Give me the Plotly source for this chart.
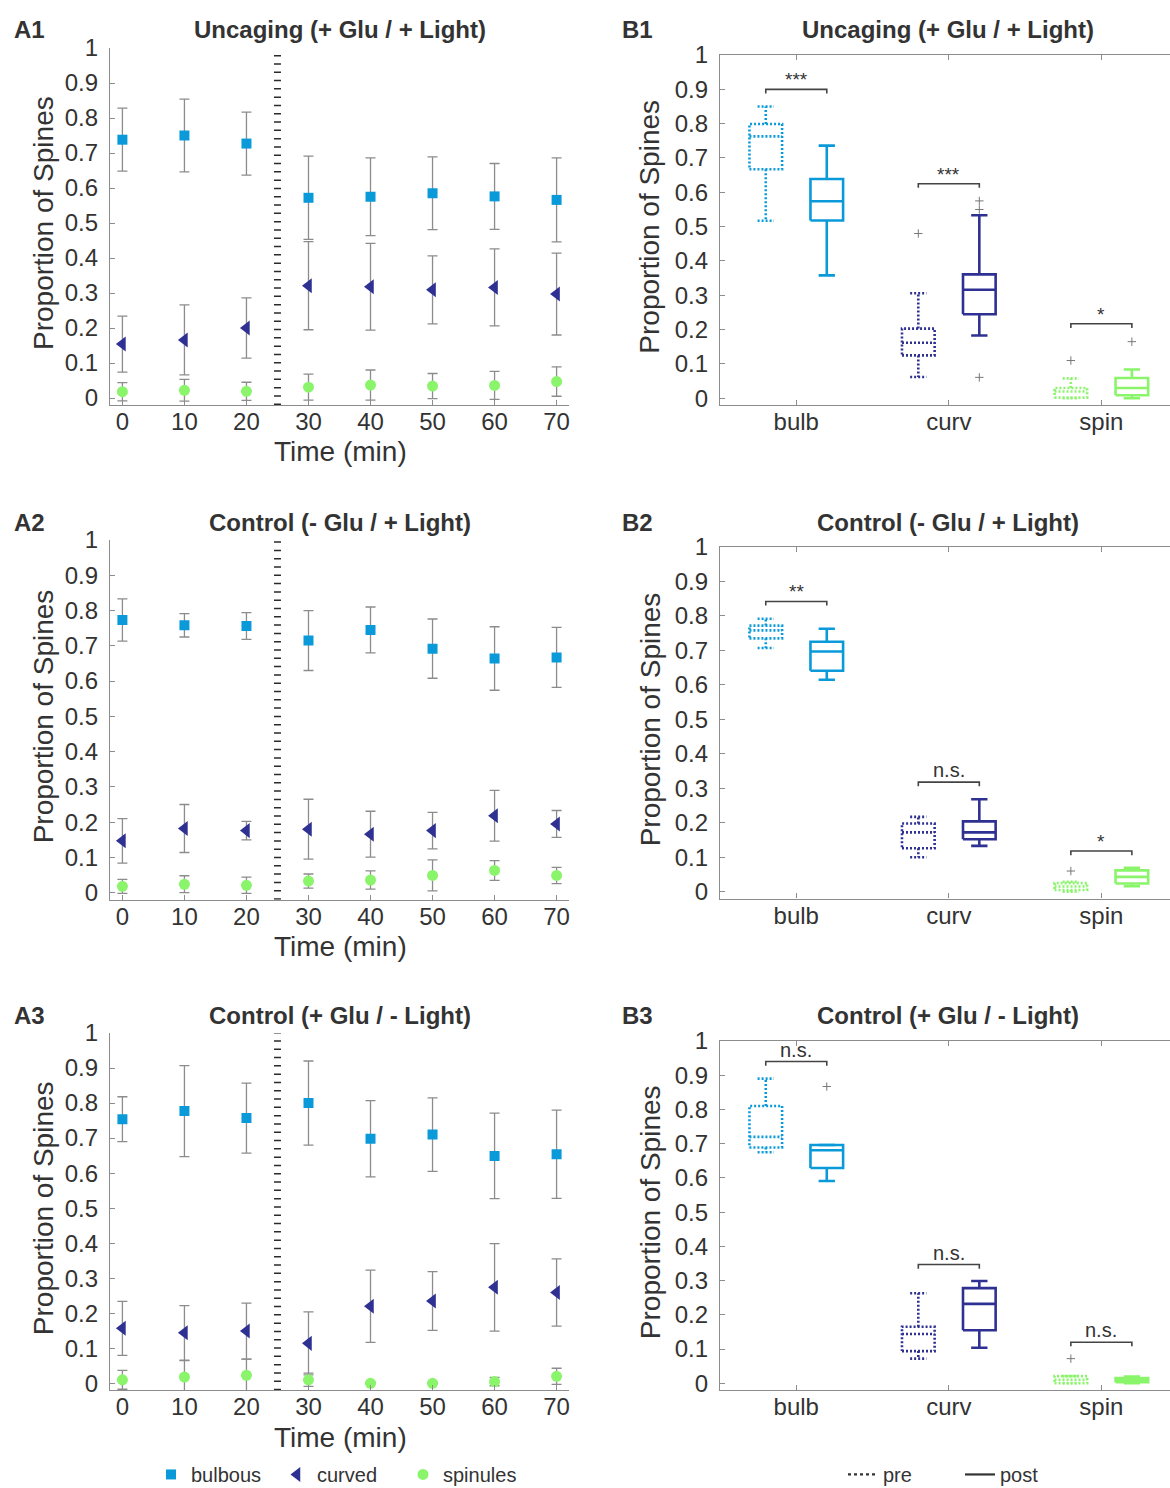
import plotly.graph_objects as go

# ---------------- data ----------------
TIME = [0, 10, 20, 30, 40, 50, 60, 70]
STIM_TIME = 25
TIME_TICKS = [0, 10, 20, 30, 40, 50, 60, 70]
Y_TICKS = [0, 0.1, 0.2, 0.3, 0.4, 0.5, 0.6, 0.7, 0.8, 0.9, 1]
Y_TICK_TEXT = ["0", "0.1", "0.2", "0.3", "0.4", "0.5", "0.6", "0.7", "0.8", "0.9", "1"]

PANEL_TITLES = ["Uncaging (+ Glu / + Light)", "Control (- Glu / + Light)", "Control (+ Glu / - Light)"]
A_LABELS = ["A1", "A2", "A3"]
B_LABELS = ["B1", "B2", "B3"]
SERIES_NAMES = ["bulbous", "curved", "spinules"]
CATEGORIES = ["bulb", "curv", "spin"]
CONDITIONS = ["pre", "post"]

# time courses (mean, error)
A1_bulb = [0.738, 0.750, 0.727, 0.572, 0.575, 0.585, 0.576, 0.566]
A1_bulb_err = [0.090, 0.104, 0.090, 0.119, 0.111, 0.104, 0.094, 0.120]
A1_curv = [0.154, 0.166, 0.200, 0.321, 0.318, 0.309, 0.316, 0.297]
A1_curv_err = [0.080, 0.100, 0.086, 0.126, 0.124, 0.097, 0.110, 0.117]
A1_spin = [0.018, 0.022, 0.019, 0.031, 0.037, 0.034, 0.036, 0.047]
A1_spin_err = [0.026, 0.031, 0.026, 0.037, 0.043, 0.036, 0.040, 0.042]

A2_bulb = [0.773, 0.758, 0.756, 0.715, 0.745, 0.692, 0.664, 0.667]
A2_bulb_err = [0.060, 0.033, 0.038, 0.085, 0.065, 0.084, 0.090, 0.085]
A2_curv = [0.147, 0.182, 0.176, 0.180, 0.166, 0.176, 0.218, 0.195]
A2_curv_err = [0.063, 0.068, 0.026, 0.085, 0.065, 0.052, 0.072, 0.038]
A2_spin = [0.018, 0.024, 0.021, 0.033, 0.036, 0.049, 0.063, 0.049]
A2_spin_err = [0.020, 0.024, 0.023, 0.020, 0.026, 0.044, 0.028, 0.023]

A3_bulb = [0.754, 0.777, 0.757, 0.800, 0.698, 0.710, 0.649, 0.654]
A3_bulb_err = [0.064, 0.130, 0.100, 0.120, 0.109, 0.105, 0.122, 0.126]
A3_curv = [0.157, 0.144, 0.149, 0.114, 0.220, 0.235, 0.274, 0.259]
A3_curv_err = [0.077, 0.078, 0.080, 0.090, 0.103, 0.084, 0.125, 0.096]
A3_spin = [0.010, 0.018, 0.023, 0.010, 0.000, 0.000, 0.005, 0.020]
A3_spin_err = [0.027, 0.047, 0.046, 0.019, 0.003, 0.003, 0.012, 0.023]

# box statistics: [lower whisker, q1, median, q3, upper whisker]
B1_pre = [[0.517, 0.667, 0.763, 0.799, 0.850], [0.062, 0.125, 0.162, 0.203, 0.306], [0.000, 0.002, 0.020, 0.030, 0.058]]
B1_post = [[0.358, 0.518, 0.574, 0.639, 0.736], [0.183, 0.245, 0.316, 0.361, 0.533], [0.000, 0.009, 0.030, 0.059, 0.084]]
B1_pre_out = [[], [0.480], [0.110]]
B1_post_out = [[], [0.575, 0.550, 0.061], [0.165]]
B1_sig_y = [0.900, 0.625, 0.217]
B1_sig = ["***", "***", "*"]

B2_pre = [[0.707, 0.735, 0.758, 0.772, 0.792], [0.100, 0.126, 0.172, 0.198, 0.217], [0.000, 0.005, 0.015, 0.025, 0.029]]
B2_post = [[0.615, 0.641, 0.697, 0.725, 0.763], [0.133, 0.152, 0.172, 0.204, 0.268], [0.016, 0.024, 0.043, 0.062, 0.069]]
B2_pre_out = [[], [], [0.060]]
B2_post_out = [[], [], []]
B2_sig_y = [0.842, 0.318, 0.118]
B2_sig = ["**", "n.s.", "*"]

B3_pre = [[0.675, 0.689, 0.720, 0.810, 0.890], [0.072, 0.094, 0.144, 0.165, 0.263], [0.000, 0.000, 0.010, 0.021, 0.021]]
B3_post = [[0.591, 0.629, 0.681, 0.696, 0.696], [0.104, 0.155, 0.232, 0.278, 0.299], [0.000, 0.003, 0.010, 0.015, 0.020]]
B3_pre_out = [[], [], [0.072]]
B3_post_out = [[0.867], [], []]
B3_sig_y = [0.940, 0.347, 0.120]
B3_sig = ["n.s.", "n.s.", "n.s."]

# ---------------- style ----------------
W, H = 1170, 1488
FONT = "Liberation Sans, Arial, sans-serif"
TXT = "#333333"
AXC = "#8c8c8c"
COLORS = ["#0a9ad9", "#2e3192", "#8af56b"]
SYMBOLS = ["square", "triangle-left", "circle"]
SIZES = [10, 13, 11]
ERRC = "#8c8c8c"
OFFSET = 0.2
HW = 0.107

A_TOP = [48, 540, 1033]
A_ZERO = [398, 892.7, 1383.3]
B_TOP = [55, 547, 1041]
B_ZERO = [398.3, 891.7, 1383.3]
YMIN = -0.02
A_X = [110, 569]
B_X = [720, 1170]
TITLE_Y = [30, 522, 1015]

A_DATA = [
    [(A1_bulb, A1_bulb_err), (A1_curv, A1_curv_err), (A1_spin, A1_spin_err)],
    [(A2_bulb, A2_bulb_err), (A2_curv, A2_curv_err), (A2_spin, A2_spin_err)],
    [(A3_bulb, A3_bulb_err), (A3_curv, A3_curv_err), (A3_spin, A3_spin_err)],
]
B_DATA = [
    (B1_pre, B1_post, B1_pre_out, B1_post_out, B1_sig_y, B1_sig),
    (B2_pre, B2_post, B2_pre_out, B2_post_out, B2_sig_y, B2_sig),
    (B3_pre, B3_post, B3_pre_out, B3_post_out, B3_sig_y, B3_sig),
]


def ydom(top, zero):
    bottom = zero + (-YMIN) * (zero - top)
    return [1 - bottom / H, 1 - top / H]


fig = go.Figure()
layout = dict(
    width=W, height=H, margin=dict(l=0, r=0, t=0, b=0, autoexpand=False),
    paper_bgcolor="white", plot_bgcolor="white",
    font=dict(family=FONT, color=TXT, size=24),
    showlegend=True,
)
annotations = []
shapes = []

common_y = dict(range=[YMIN, 1.0], tickvals=Y_TICKS, ticktext=Y_TICK_TEXT, ticks="inside",
                ticklen=5, tickcolor=AXC, showline=True, linecolor=AXC, linewidth=1.3,
                showgrid=False, zeroline=False, tickfont=dict(size=24, color=TXT, family=FONT),
                ticklabelstandoff=6)
common_x = dict(ticks="inside", ticklen=5, tickcolor=AXC, showline=True, linecolor=AXC,
                linewidth=1.3, showgrid=False, zeroline=False,
                tickfont=dict(size=24, color=TXT, family=FONT), ticklabelstandoff=-5)

for i in range(3):
    ax_a = 2 * i + 1
    ax_b = 2 * i + 2
    xa = "x" if ax_a == 1 else f"x{ax_a}"
    ya = "y" if ax_a == 1 else f"y{ax_a}"
    xb = f"x{ax_b}"
    yb = f"y{ax_b}"
    ka = "" if ax_a == 1 else str(ax_a)
    kb = str(ax_b)

    # ---- A panel ----
    layout["xaxis" + ka] = dict(domain=[A_X[0] / W, A_X[1] / W], range=[-2, 72], anchor=ya,
                                tickvals=TIME_TICKS, **common_x)
    layout["yaxis" + ka] = dict(domain=ydom(A_TOP[i], A_ZERO[i]), anchor=xa, **common_y)

    for s in range(3):
        vals, err = A_DATA[i][s]
        fig.add_trace(go.Scatter(
            x=TIME, y=vals, mode="markers", name=SERIES_NAMES[s],
            marker=dict(symbol=SYMBOLS[s], size=SIZES[s], color=COLORS[s], line=dict(width=0)),
            error_y=dict(type="data", array=err, color=ERRC, thickness=1.3, width=5),
            xaxis=xa, yaxis=ya, showlegend=(i == 0), legend="legend",
        ))
    shapes.append(dict(type="line", xref=xa, yref=ya, x0=STIM_TIME, x1=STIM_TIME, y0=YMIN, y1=1.0,
                       line=dict(color="#2a2a2a", width=7, dash="1.5px,6.8px")))

    # ---- B panel ----
    layout["xaxis" + kb] = dict(domain=[B_X[0] / W, B_X[1] / W], range=[0.5, 3.45], anchor=yb,
                                tickvals=[1, 2, 3], ticktext=CATEGORIES, mirror="ticks", **common_x)
    layout["yaxis" + kb] = dict(domain=ydom(B_TOP[i], B_ZERO[i]), anchor=xb, **common_y)

    pre, post, pre_out, post_out, sig_y, sig = B_DATA[i]
    for c in range(3):
        cat = c + 1
        for cond, stats, outs, dash in ((0, pre[c], pre_out[c], "2px,2px"), (1, post[c], post_out[c], "solid")):
            ctr = cat - OFFSET if cond == 0 else cat + OFFSET
            lo, q1, med, q3, hi = stats
            cw = HW / 2
            xs = [ctr - HW, ctr + HW, ctr + HW, ctr - HW, ctr - HW, None,
                  ctr - HW, ctr + HW, None,
                  ctr, ctr, None, ctr - cw, ctr + cw, None,
                  ctr, ctr, None, ctr - cw, ctr + cw]
            ys = [q1, q1, q3, q3, q1, None,
                  med, med, None,
                  q3, hi, None, hi, hi, None,
                  q1, lo, None, lo, lo]
            fig.add_trace(go.Scatter(x=xs, y=ys, mode="lines", xaxis=xb, yaxis=yb, showlegend=False,
                                     line=dict(color=COLORS[c], width=2.6, dash=dash),
                                     hoverinfo="skip"))
            if outs:
                fig.add_trace(go.Scatter(x=[ctr] * len(outs), y=outs, mode="markers", xaxis=xb, yaxis=yb,
                                         showlegend=False,
                                         marker=dict(symbol="cross-thin", size=6,
                                                     line=dict(width=1, color="#777777"))))
        # significance bracket
        x0, x1 = cat - OFFSET, cat + OFFSET
        h = sig_y[c]
        fig.add_trace(go.Scatter(x=[x0, x0, x1, x1], y=[h - 0.012, h, h, h - 0.012], mode="lines",
                                 xaxis=xb, yaxis=yb, showlegend=False,
                                 line=dict(color="#444444", width=1.6), hoverinfo="skip"))
        is_star = "*" in sig[c]
        annotations.append(dict(xref=xb, yref=yb, x=cat, y=h, text=sig[c], showarrow=False,
                                yanchor="bottom", yshift=(-3 if is_star else -1),
                                font=dict(size=(19 if is_star else 20), color=TXT, family=FONT)))

    # titles / labels
    for cx, text in ((340, PANEL_TITLES[i]), (948, PANEL_TITLES[i])):
        annotations.append(dict(xref="paper", yref="paper", x=cx / W, y=1 - TITLE_Y[i] / H,
                                text=f"<b>{text}</b>", showarrow=False, xanchor="center",
                                yanchor="middle", font=dict(size=24, color=TXT, family=FONT)))
    for cx, text in ((29, A_LABELS[i]), (638, B_LABELS[i])):
        annotations.append(dict(xref="paper", yref="paper", x=cx / W, y=1 - TITLE_Y[i] / H,
                                text=f"<b>{text}</b>", showarrow=False, xanchor="center",
                                yanchor="middle", font=dict(size=24, color=TXT, family=FONT)))
    for cx, top, zero in ((43, A_TOP[i], A_ZERO[i]), (650, B_TOP[i], B_ZERO[i])):
        annotations.append(dict(xref="paper", yref="paper", x=cx / W, y=1 - ((top + zero) / 2) / H,
                                text="Proportion of Spines", textangle=-90, showarrow=False,
                                xanchor="center", yanchor="middle",
                                font=dict(size=28, color=TXT, family=FONT)))
    annotations.append(dict(xref="paper", yref="paper", x=340 / W, y=1 - (A_ZERO[i] + 54) / H,
                            text="Time (min)", showarrow=False, xanchor="center", yanchor="middle",
                            font=dict(size=28, color=TXT, family=FONT)))

# legend entries for pre / post
for cond, dash in zip(CONDITIONS, ["dot", "solid"]):
    fig.add_trace(go.Scatter(x=[None], y=[None], mode="lines", name=cond, legend="legend2",
                             line=dict(color="#333333", width=2.2, dash=dash), showlegend=True))

layout["legend"] = dict(orientation="h", x=151 / W, y=-0.004, xanchor="left", yanchor="bottom",
                        font=dict(size=20, color=TXT, family=FONT), entrywidth=81,
                        entrywidthmode="pixels", bgcolor="rgba(0,0,0,0)", itemclick=False)
layout["legend2"] = dict(orientation="h", x=843 / W, y=-0.004, xanchor="left", yanchor="bottom",
                         font=dict(size=20, color=TXT, family=FONT), entrywidth=72,
                         entrywidthmode="pixels", bgcolor="rgba(0,0,0,0)", itemclick=False)
layout["annotations"] = annotations
layout["shapes"] = shapes
fig.update_layout(**layout)
fig.write_html("out.html")
